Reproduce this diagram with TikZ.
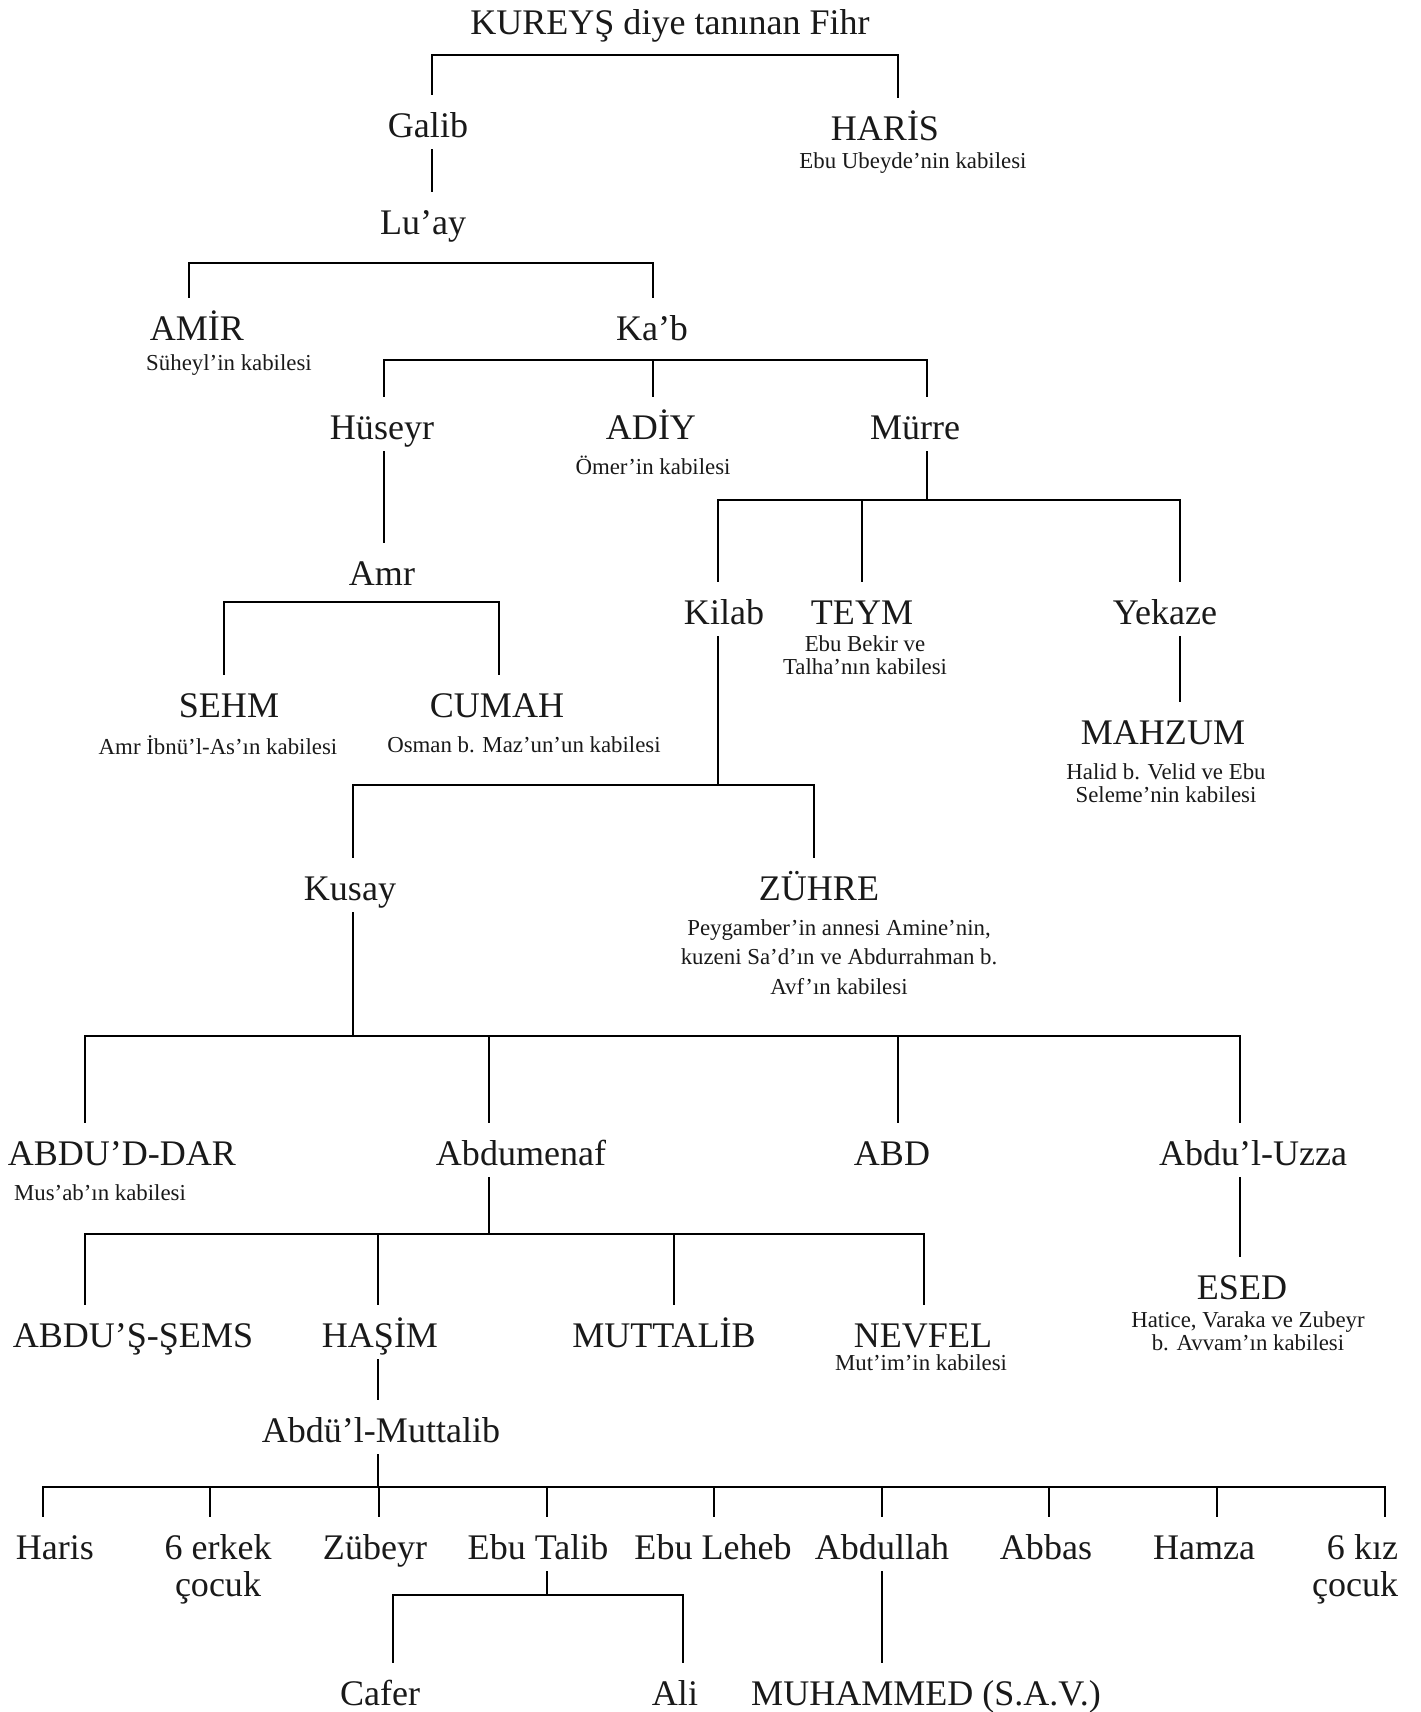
\documentclass[tikz,border=0pt]{standalone}
\usepackage{fontspec}
\setmainfont{Liberation Serif}

\tikzstyle{personNode}=[anchor=base,inner sep=0pt,outer sep=0pt,text height=24pt,text depth=7pt,font=\fontsize{20.5}{21.5}\selectfont,text=black!90]
\tikzstyle{noteNode}=[inner sep=0pt,align=center,font=\fontsize{13}{13}\selectfont,text=black!90]
\tikzstyle{barLine}=[draw,line width=1.6pt,line cap=rect]
\tikzstyle{stemLine}=[draw,line width=0.8pt]

\begin{document}
\begin{tikzpicture}[x=0.02cm,y=-0.02cm]
  \useasboundingbox (0,0) rectangle (1421,1712);

  \node[personNode] (fihr) at (670,34) {KUREYŞ diye tanınan Fihr};
  \node[personNode] (galib) at (428,137) {Galib};
  \node[personNode] (haris) at (885,140) {HARİS};
  \node[noteNode] (harisN) at (913,163) {Ebu Ubeyde’nin kabilesi};
  \node[personNode] (luay) at (423,234) {Lu’ay};
  \node[personNode] (amir) at (197,340) {AMİR};
  \node[noteNode] (amirN) at (229,365) {Süheyl’in kabilesi};
  \node[personNode] (kab) at (652,340) {Ka’b};
  \node[personNode] (huseyr) at (382,439) {Hüseyr};
  \node[personNode] (adiy) at (651,439) {ADİY};
  \node[noteNode] (adiyN) at (653,465) {Ömer’in kabilesi};
  \node[personNode] (murre) at (915,439) {Mürre};
  \node[personNode] (amr) at (382,585) {Amr};
  \node[personNode] (kilab) at (724,624) {Kilab};
  \node[personNode] (teym) at (862,624) {TEYM};
  \node[noteNode] (teymN) at (865,655) {Ebu Bekir ve\\Talha’nın kabilesi};
  \node[personNode] (yekaze) at (1165,624) {Yekaze};
  \node[personNode] (sehm) at (229,717) {SEHM};
  \node[noteNode] (sehmN) at (218,745) {Amr İbnü’l-As’ın kabilesi};
  \node[personNode] (cumah) at (497,717) {CUMAH};
  \node[noteNode] (cumahN) at (524,745) {Osman b. Maz’un’un kabilesi};
  \node[personNode] (mahzum) at (1163,744) {MAHZUM};
  \node[noteNode] (mahzumN) at (1166,783) {Halid b. Velid ve Ebu\\Seleme’nin kabilesi};
  \node[personNode] (kusay) at (350,900) {Kusay};
  \node[personNode] (zuhre) at (819,900) {ZÜHRE};
  \node[noteNode,font=\fontsize{13}{16.7}\selectfont] (zuhreN) at (839,957) {Peygamber’in annesi Amine’nin,\\kuzeni Sa’d’ın ve Abdurrahman b.\\Avf’ın kabilesi};
  \node[personNode] (abdudar) at (122,1165) {ABDU’D-DAR};
  \node[noteNode] (abdudarN) at (100,1193) {Mus’ab’ın kabilesi};
  \node[personNode] (abdumenaf) at (521,1165) {Abdumenaf};
  \node[personNode] (abd) at (892,1165) {ABD};
  \node[personNode] (abduluzza) at (1253,1165) {Abdu’l-Uzza};
  \node[personNode] (esed) at (1242,1299) {ESED};
  \node[noteNode] (esedN) at (1248,1331) {Hatice, Varaka ve Zubeyr\\b. Avvam’ın kabilesi};
  \node[personNode] (abdusems) at (133,1347) {ABDU’Ş-ŞEMS};
  \node[personNode] (hasim) at (380,1347) {HAŞİM};
  \node[personNode] (muttalib) at (664,1347) {MUTTALİB};
  \node[personNode] (nevfel) at (923,1347) {NEVFEL};
  \node[noteNode] (nevfelN) at (921,1363) {Mut’im’in kabilesi};
  \node[personNode] (abdulmuttalib) at (381,1442) {Abdü’l-Muttalib};
  \node[personNode] (harisB) at (55,1559) {Haris};
  \node[personNode] (erkek) at (218,1559) {\begin{tabular}[t]{@{}c@{}}6 erkek\\çocuk\end{tabular}};
  \node[personNode] (zubeyr) at (375,1559) {Zübeyr};
  \node[personNode] (ebutalib) at (538,1559) {Ebu Talib};
  \node[personNode] (ebuleheb) at (713,1559) {Ebu Leheb};
  \node[personNode] (abdullah) at (882,1559) {Abdullah};
  \node[personNode] (abbas) at (1046,1559) {Abbas};
  \node[personNode] (hamza) at (1204,1559) {Hamza};
  \node[personNode,anchor=base east] (kiz) at (1398,1559) {\begin{tabular}[t]{@{}r@{}}6 kız\\çocuk\end{tabular}};
  \node[personNode] (cafer) at (380,1705) {Cafer};
  \node[personNode] (ali) at (675,1705) {Ali};
  \node[personNode] (muhammed) at (926,1705) {MUHAMMED (S.A.V.)};

  \coordinate (galibT) at (432,55);
  \coordinate (harisT) at (898,55);
  \coordinate (amirT) at (189,263);
  \coordinate (kabT) at (653,263);
  \coordinate (huseyrT) at (384,360);
  \coordinate (adiyT) at (653,360);
  \coordinate (murreT) at (927,360);
  \coordinate (kilabT) at (718,500);
  \coordinate (teymT) at (862,500);
  \coordinate (yekazeT) at (1180,500);
  \coordinate (sehmT) at (224,602);
  \coordinate (cumahT) at (499,602);
  \coordinate (kusayT) at (353,785);
  \coordinate (zuhreT) at (814,785);
  \coordinate (abdudarT) at (85,1036);
  \coordinate (abdumenafT) at (489,1036);
  \coordinate (abdT) at (898,1036);
  \coordinate (abduluzzaT) at (1240,1036);
  \coordinate (abdusemsT) at (85,1234);
  \coordinate (hasimT) at (378,1234);
  \coordinate (muttalibT) at (674,1234);
  \coordinate (nevfelT) at (924,1234);
  \coordinate (harisBT) at (43,1487);
  \coordinate (erkekT) at (210,1487);
  \coordinate (zubeyrT) at (379,1487);
  \coordinate (ebutalibT) at (547,1487);
  \coordinate (ebulehebT) at (714,1487);
  \coordinate (abdullahT) at (882,1487);
  \coordinate (abbasT) at (1049,1487);
  \coordinate (hamzaT) at (1217,1487);
  \coordinate (kizT) at (1385,1487);
  \coordinate (caferT) at (393,1595);
  \coordinate (aliT) at (683,1595);

  \path[barLine] (galibT) -- (harisT);
  \path[stemLine] (galibT) -- (galibT |- galib.north);
  \path[stemLine] (harisT) -- (harisT |- haris.north);
  \path[stemLine] (galibT |- galib.south) -- (galibT |- luay.north);

  \path[barLine] (amirT) -- (kabT);
  \path[stemLine] (amirT) -- (amirT |- amir.north);
  \path[stemLine] (kabT) -- (kabT |- kab.north);

  \path[barLine] (huseyrT) -- (murreT);
  \path[stemLine] (huseyrT) -- (huseyrT |- huseyr.north);
  \path[stemLine] (adiyT) -- (adiyT |- adiy.north);
  \path[stemLine] (murreT) -- (murreT |- murre.north);
  \path[stemLine] (huseyrT |- huseyr.south) -- (huseyrT |- amr.north);
  \path[stemLine] (murreT |- murre.south) -- (murreT |- kilabT);

  \path[barLine] (sehmT) -- (cumahT);
  \path[stemLine] (sehmT) -- (sehmT |- sehm.north);
  \path[stemLine] (cumahT) -- (cumahT |- cumah.north);

  \path[barLine] (kilabT) -- (yekazeT);
  \path[stemLine] (kilabT) -- (kilabT |- kilab.north);
  \path[stemLine] (teymT) -- (teymT |- teym.north);
  \path[stemLine] (yekazeT) -- (yekazeT |- yekaze.north);
  \path[stemLine] (yekazeT |- yekaze.south) -- (yekazeT |- mahzum.north);
  \path[stemLine] (kilabT |- kilab.south) -- (kilabT |- kusayT);

  \path[barLine] (kusayT) -- (zuhreT);
  \path[stemLine] (kusayT) -- (kusayT |- kusay.north);
  \path[stemLine] (zuhreT) -- (zuhreT |- zuhre.north);
  \path[stemLine] (kusayT |- kusay.south) -- (kusayT |- abdudarT);

  \path[barLine] (abdudarT) -- (abduluzzaT);
  \path[stemLine] (abdudarT) -- (abdudarT |- abdudar.north);
  \path[stemLine] (abdumenafT) -- (abdumenafT |- abdumenaf.north);
  \path[stemLine] (abdT) -- (abdT |- abd.north);
  \path[stemLine] (abduluzzaT) -- (abduluzzaT |- abduluzza.north);
  \path[stemLine] (abduluzzaT |- abduluzza.south) -- (abduluzzaT |- esed.north);
  \path[stemLine] (abdumenafT |- abdumenaf.south) -- (abdumenafT |- abdusemsT);

  \path[barLine] (abdusemsT) -- (nevfelT);
  \path[stemLine] (abdusemsT) -- (abdusemsT |- abdusems.north);
  \path[stemLine] (hasimT) -- (hasimT |- hasim.north);
  \path[stemLine] (muttalibT) -- (muttalibT |- muttalib.north);
  \path[stemLine] (nevfelT) -- (nevfelT |- nevfel.north);
  \path[stemLine] (hasimT |- hasim.south) -- (hasimT |- abdulmuttalib.north);
  \path[stemLine] (hasimT |- abdulmuttalib.south) -- (hasimT |- harisBT);

  \path[barLine] (harisBT) -- (kizT);
  \path[stemLine] (harisBT) -- (harisBT |- harisB.north);
  \path[stemLine] (erkekT) -- (erkekT |- erkek.north);
  \path[stemLine] (zubeyrT) -- (zubeyrT |- zubeyr.north);
  \path[stemLine] (ebutalibT) -- (ebutalibT |- ebutalib.north);
  \path[stemLine] (ebulehebT) -- (ebulehebT |- ebuleheb.north);
  \path[stemLine] (abdullahT) -- (abdullahT |- abdullah.north);
  \path[stemLine] (abbasT) -- (abbasT |- abbas.north);
  \path[stemLine] (hamzaT) -- (hamzaT |- hamza.north);
  \path[stemLine] (kizT) -- (kizT |- kiz.north);

  \path[barLine] (caferT) -- (aliT);
  \path[stemLine] (ebutalibT |- ebutalib.south) -- (ebutalibT |- caferT);
  \path[stemLine] (caferT) -- (caferT |- cafer.north);
  \path[stemLine] (aliT) -- (aliT |- ali.north);
  \path[stemLine] (abdullahT |- abdullah.south) -- (abdullahT |- muhammed.north);

\end{tikzpicture}
\end{document}
